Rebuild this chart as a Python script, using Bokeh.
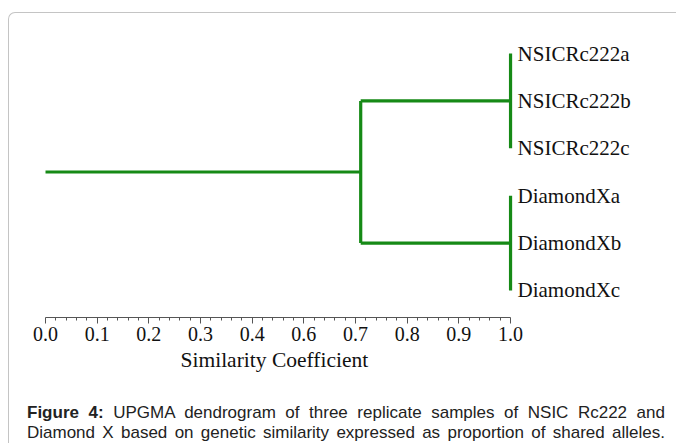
import numpy as np
from bokeh.plotting import figure
from bokeh.models import Range1d, FixedTicker, Div, Title
from bokeh.layouts import column
from bokeh.embed import file_html
from bokeh.resources import INLINE
from bokeh.core.properties import value

# ---- data ----
leaf_labels = ["NSICRc222a", "NSICRc222b", "NSICRc222c",
               "DiamondXa", "DiamondXb", "DiamondXc"]
cluster_members = [[0, 1, 2], [3, 4, 5]]
cluster_similarity = [1.0, 1.0]      # similarity within each cluster
join_similarity = 0.71               # similarity at which the two clusters join
root_similarity = 0.0                # start of the root stem
tick_values = [0.0, 0.1, 0.2, 0.3, 0.4, 0.6, 0.7, 0.8, 0.9, 1.0]
tick_labels = ["0.0", "0.1", "0.2", "0.3", "0.4", "0.6", "0.7", "0.8", "0.9", "1.0"]
axis_title = "Similarity Coefficient"
caption_bold = "Figure 4:"
caption_line1 = "UPGMA dendrogram of three replicate samples of NSIC Rc222 and"
caption_line2 = "Diamond X based on genetic similarity expressed as proportion of shared alleles."

GREEN = "#168a16"
SERIF = "Liberation Serif"

tick_pos = np.arange(len(tick_values))


def pos(s):
    # printed axis is evenly spaced by its labels
    return float(np.interp(s, tick_values, tick_pos))


p = figure(frame_width=659, frame_height=304,
           x_range=Range1d(-0.697, 12.057), y_range=Range1d(5.57, -0.844),
           output_backend="svg", toolbar_location=None, y_axis_location=None,
           min_border_left=0, min_border_right=0, min_border_top=0,
           min_border_bottom=68)
p.grid.visible = False
p.outline_line_color = None
p.background_fill_color = None
p.border_fill_color = None

# ---- dendrogram segments ----
x0, y0, x1, y1 = [], [], [], []
centers = []
for members, sim in zip(cluster_members, cluster_similarity):
    xs = pos(sim)
    x0.append(xs); x1.append(xs)
    y0.append(min(members)); y1.append(max(members))
    c = float(np.mean(members))
    centers.append(c)
    x0.append(pos(join_similarity)); x1.append(xs)
    y0.append(c); y1.append(c)
xj = pos(join_similarity)
x0.append(xj); x1.append(xj); y0.append(centers[0]); y1.append(centers[1])
root_y = float(np.mean(centers))
x0.append(pos(root_similarity)); x1.append(xj); y0.append(root_y); y1.append(root_y)

p.segment(x0=x0, y0=y0, x1=x1, y1=y1, line_color=GREEN, line_width=3.2)

# ---- leaf labels ----
leaf_x = []
for members, sim in zip(cluster_members, cluster_similarity):
    leaf_x += [pos(sim)] * len(members)
p.text(x=leaf_x, y=list(range(len(leaf_labels))), text=leaf_labels,
       x_offset=7, text_baseline="middle", text_align="left",
       text_font=value(SERIF), text_font_size="21px", text_color="#111111")

# ---- axis ----
ax = p.xaxis[0]
minor = [i + k / 5 for i in range(len(tick_values) - 1) for k in range(1, 5)]
ax.ticker = FixedTicker(ticks=list(tick_pos), minor_ticks=minor)
ax.major_label_overrides = {int(i): lbl for i, lbl in zip(tick_pos, tick_labels)}
ax.bounds = (0, len(tick_values) - 1)
ax.axis_line_color = "#555555"
ax.major_tick_line_color = "#555555"
ax.minor_tick_line_color = "#555555"
ax.major_tick_out = 6
ax.major_tick_in = 0
ax.minor_tick_out = 3
ax.minor_tick_in = 0
ax.major_label_text_font = SERIF
ax.major_label_text_font_size = "20px"
ax.major_label_text_color = "#111111"
ax.major_label_standoff = 3

# axis title placed under the ruler (the ruler is shorter than the frame)
p.add_layout(Title(text=axis_title, align="left", offset=171, standoff=4,
                   text_font=SERIF, text_font_size="21.5px", text_font_style="normal",
                   text_color="#111111"), "below")

line_style = ("font-family:'Liberation Sans',Arial,sans-serif;font-size:17px;"
              "line-height:20px;color:#222;width:638px;margin-left:13px;"
              "text-align:justify;text-align-last:justify;white-space:nowrap;")
cap = Div(text=(f'<div style="{line_style}"><b>{caption_bold}</b> {caption_line1}</div>'
                f'<div style="{line_style}">{caption_line2}</div>'),
          width=659, height=50, styles={"padding-top": "13px"})

layout = column(p, cap, styles={"border-top": "1px solid #c4c4c4",
                                "border-left": "1px solid #c4c4c4",
                                "border-top-left-radius": "7px",
                                "margin-top": "12px",
                                "margin-left": "8px"})

open("out.html", "w").write(file_html(layout, INLINE))
